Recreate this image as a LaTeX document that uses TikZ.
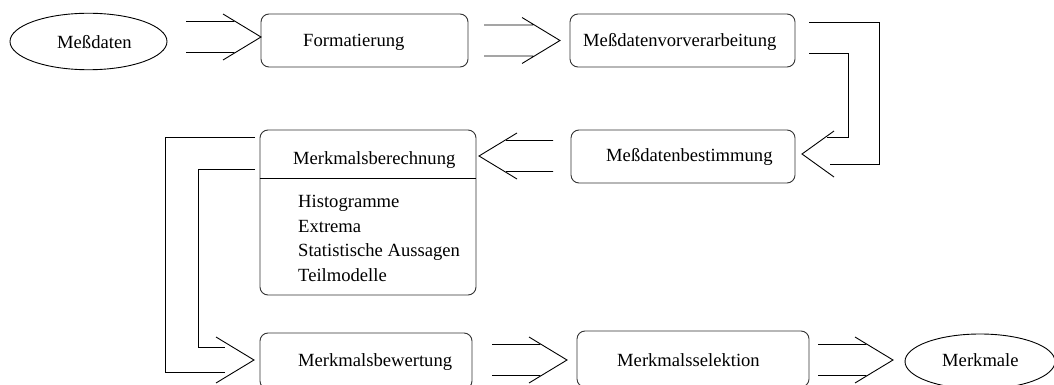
\documentclass[tikz,border=0pt]{standalone}
\usepackage{fontspec}
\setmainfont{Liberation Serif}
\usetikzlibrary{calc,shapes.geometric}

% Twin-line arrow with an open chevron head.
% #1 = tail point, #2 = tip point, #3 = 1 (points right) or -1 (points left)
\newcommand\twinarrow[3]{%
  \draw[conn] ($(#1)+(0,-15.5)$) -- ($(#2)+({-(#3)*27},-15.5)$)
              ($(#1)+(0,15.5)$)  -- ($(#2)+({-(#3)*27},15.5)$)
              ($(#2)+({-(#3)*38},-23)$) -- (#2) -- ($(#2)+({-(#3)*38},23)$);
}

\begin{document}
\begin{tikzpicture}[x=1pt,y=-1pt,
  box/.style={draw=black!80, line width=0.9pt, rounded corners=8pt, inner sep=0pt},
  oval/.style={draw=black, line width=0.9pt, ellipse, inner sep=0pt},
  lbl/.style={anchor=base west, inner sep=0pt, font=\fontsize{18.6}{22}\selectfont},
  conn/.style={draw=black, line width=0.9pt},
]
\useasboundingbox (0,0) rectangle (1054,385);
\clip (0,0) rectangle (1054,385);

% processing stations
\node[oval, minimum width=157pt, minimum height=56.5pt] (md)  at (88.5,41.5) {};
\node[box, minimum width=207pt, minimum height=53pt]    (fmt) at (364.5,40.5) {};
\node[box, minimum width=225pt, minimum height=53pt]    (mvv) at (682.5,40.5) {};
\node[box, minimum width=224pt, minimum height=53pt]    (mbs) at (683,156.5) {};
\node[box, minimum width=216pt, minimum height=165pt]   (mbr) at (368,212.5) {};
\node[box, minimum width=212pt, minimum height=56pt]    (mbw) at (366,361) {};
\node[box, minimum width=232pt, minimum height=56pt]    (msl) at (693,359) {};
\node[oval, minimum width=150pt, minimum height=55pt]   (mm)  at (980,361.5) {};

% compartment line of the feature computation box
\draw[conn] ([yshift=-49pt]mbr.north west) -- ([yshift=-49pt]mbr.north east);

% labels
\node[lbl] (tmd)  at (57,48.5)   {Meßdaten};
\node[lbl] (tfmt) at (303,46.5)  {Formatierung};
\node[lbl] (tmvv) at (583,46.5)  {Meßdatenvorverarbeitung};
\node[lbl] (tmbs) at (606,161)   {Meßdatenbestimmung};
\node[lbl] (tmbr) at (293,164)   {Merkmalsberechnung};
\node[lbl] (l1)   at (298,207.5) {Histogramme};
\node[lbl] (l2)   at (298,232.2) {Extrema};
\node[lbl] (l3)   at (298,256.8) {Statistische Aussagen};
\node[lbl] (l4)   at (298,281)   {Teilmodelle};
\node[lbl] (tmbw) at (298,366.5) {Merkmalsbewertung};
\node[lbl] (tmsl) at (617,366)   {Merkmalsselektion};
\node[lbl] (tmm)  at (942,366.5) {Merkmale};

% straight twin arrows
\coordinate (a1s) at (186,37);    \coordinate (a1t) at (261,37);
\coordinate (a2s) at (484,40.5);  \coordinate (a2t) at (560,40.5);
\coordinate (a3s) at (553,156);   \coordinate (a3t) at (479,156);
\coordinate (a5s) at (492,360);   \coordinate (a5t) at (567,360);
\coordinate (a6s) at (818,360);   \coordinate (a6t) at (893,360);
\twinarrow{a1s}{a1t}{1}
\twinarrow{a2s}{a2t}{1}
\twinarrow{a3s}{a3t}{-1}
\twinarrow{a5s}{a5t}{1}
\twinarrow{a6s}{a6t}{1}

% bent twin arrow on the right (preprocessing -> determination)
\coordinate (r1) at (809,22);  \coordinate (r2) at (830,164);
\coordinate (r3) at (809,53);  \coordinate (r4) at (827,137);
\coordinate (rt) at (802,154);
\draw[conn] (r1) -- (879,22) -- (879,164) -- (r2);
\draw[conn] (r3) -- (848,53) -- (848,137) -- (r4);
\draw[conn] (834,131) -- (rt) -- (834,177);

% bent twin arrow on the left (computation -> evaluation)
\coordinate (k1) at (255,137); \coordinate (k2) at (225,372);
\coordinate (k3) at (255,169); \coordinate (k4) at (225,347);
\coordinate (kt) at (254,360);
\draw[conn] (k1) -- (165,137) -- (165,372) -- (k2);
\draw[conn] (k3) -- (198,169) -- (198,347) -- (k4);
\draw[conn] (216,337) -- (kt) -- (216,383);
\end{tikzpicture}
\end{document}
